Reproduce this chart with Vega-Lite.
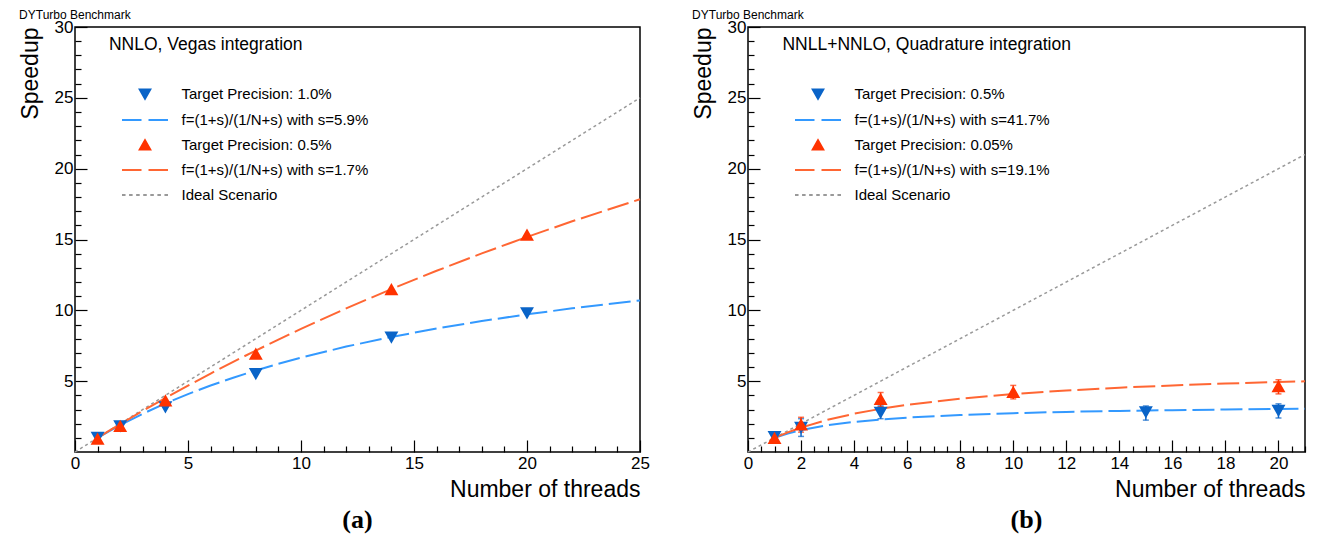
{
  "$schema": "https://vega.github.io/schema/vega-lite/v6.json",
  "background": "white",
  "padding": {"left": 18, "top": 8, "right": 6, "bottom": 0},
  "spacing": 40,
  "resolve": {"scale": {"fill": "independent", "stroke": "independent", "shape": "independent", "x": "independent", "y": "independent"}, "legend": {"fill": "independent", "stroke": "independent", "shape": "independent"}},
  "config": {
    "view": {"stroke": "#000", "strokeWidth": 1.5},
    "axis": {"grid": false, "domain": false, "labelFont": "Liberation Sans", "labelFontSize": 17, "labelColor": "#000", "tickColor": "#000", "tickWidth": 1.2, "tickCount": 200, "titleFont": "Liberation Sans", "titleFontSize": 23, "titleFontWeight": "normal", "titleColor": "#000", "labelOverlap": false, "labelFlush": false},
    "legend": {"labelFont": "Liberation Sans", "labelFontSize": 15, "labelColor": "#000", "labelLimit": 400, "symbolSize": 625, "symbolStrokeWidth": 2, "labelOffset": 23, "padding": 0, "rowPadding": 3, "orient": "none"},
    "title": {"font": "Liberation Sans", "fontSize": 12, "fontWeight": "normal", "anchor": "start", "color": "#000", "offset": -4},
    "text": {"font": "Liberation Sans", "color": "#000"}
  },
  "datasets": {
    "a_fit10": [
      {"N": 1, "S": 1.0}, {"N": 1.5, "S": 1.459}, {"N": 2, "S": 1.894}, {"N": 3, "S": 2.699}, {"N": 4, "S": 3.427}, {"N": 5, "S": 4.089}, {"N": 6, "S": 4.692}, {"N": 7, "S": 5.245}, {"N": 8, "S": 5.755}, {"N": 9, "S": 6.226}, {"N": 10, "S": 6.66}, {"N": 12, "S": 7.442}, {"N": 14, "S": 8.119}, {"N": 16, "S": 8.716}, {"N": 18, "S": 9.244}, {"N": 20, "S": 9.716}, {"N": 22, "S": 10.139}, {"N": 25, "S": 10.697}
    ],
    "a_fit05": [
      {"N": 1, "S": 1.0}, {"N": 1.5, "S": 1.487}, {"N": 2, "S": 1.967}, {"N": 3, "S": 2.903}, {"N": 4, "S": 3.809}, {"N": 5, "S": 4.687}, {"N": 6, "S": 5.537}, {"N": 7, "S": 6.361}, {"N": 8, "S": 7.162}, {"N": 9, "S": 7.939}, {"N": 10, "S": 8.692}, {"N": 12, "S": 10.139}, {"N": 14, "S": 11.501}, {"N": 16, "S": 12.792}, {"N": 18, "S": 14.017}, {"N": 20, "S": 15.179}, {"N": 22, "S": 16.285}, {"N": 25, "S": 17.842}
    ],
    "a_pts": [
      {"N": 1, "S": 1.05, "series": "Target Precision: 1.0%"},
      {"N": 2, "S": 1.85, "series": "Target Precision: 1.0%"},
      {"N": 4, "S": 3.2, "series": "Target Precision: 1.0%"},
      {"N": 8, "S": 5.55, "series": "Target Precision: 1.0%"},
      {"N": 14, "S": 8.12, "series": "Target Precision: 1.0%"},
      {"N": 20, "S": 9.83, "series": "Target Precision: 1.0%"},
      {"N": 1, "S": 0.9, "series": "Target Precision: 0.5%"},
      {"N": 2, "S": 1.8, "series": "Target Precision: 0.5%"},
      {"N": 4, "S": 3.6, "series": "Target Precision: 0.5%"},
      {"N": 8, "S": 6.9, "series": "Target Precision: 0.5%"},
      {"N": 14, "S": 11.45, "series": "Target Precision: 0.5%"},
      {"N": 20, "S": 15.3, "series": "Target Precision: 0.5%"}
    ],
    "b_fit05": [
      {"N": 1, "S": 1.0}, {"N": 1.5, "S": 1.308}, {"N": 2, "S": 1.545}, {"N": 3, "S": 1.889}, {"N": 4, "S": 2.124}, {"N": 5, "S": 2.297}, {"N": 6, "S": 2.428}, {"N": 8, "S": 2.614}, {"N": 10, "S": 2.741}, {"N": 12, "S": 2.832}, {"N": 14, "S": 2.901}, {"N": 16, "S": 2.955}, {"N": 18, "S": 2.998}, {"N": 20, "S": 3.034}, {"N": 21, "S": 3.05}
    ],
    "b_fit005": [
      {"N": 1, "S": 1.0}, {"N": 1.5, "S": 1.389}, {"N": 2, "S": 1.724}, {"N": 3, "S": 2.272}, {"N": 4, "S": 2.701}, {"N": 5, "S": 3.046}, {"N": 6, "S": 3.33}, {"N": 8, "S": 3.769}, {"N": 10, "S": 4.093}, {"N": 12, "S": 4.342}, {"N": 14, "S": 4.539}, {"N": 16, "S": 4.698}, {"N": 18, "S": 4.83}, {"N": 20, "S": 4.942}, {"N": 21, "S": 4.992}
    ],
    "b_pts_blue": [
      {"N": 1, "S": 1.1, "lo": 0.95, "hi": 1.25, "series": "Target Precision: 0.5%"},
      {"N": 2, "S": 1.75, "lo": 1.1, "hi": 2.35, "series": "Target Precision: 0.5%"},
      {"N": 5, "S": 2.8, "lo": 2.35, "hi": 3.25, "series": "Target Precision: 0.5%"},
      {"N": 15, "S": 2.85, "lo": 2.25, "hi": 3.25, "series": "Target Precision: 0.5%"},
      {"N": 20, "S": 2.95, "lo": 2.4, "hi": 3.4, "series": "Target Precision: 0.5%"}
    ],
    "b_pts_orange": [
      {"N": 1, "S": 0.95, "lo": 0.8, "hi": 1.1, "series": "Target Precision: 0.05%"},
      {"N": 2, "S": 1.9, "lo": 1.4, "hi": 2.45, "series": "Target Precision: 0.05%"},
      {"N": 5, "S": 3.7, "lo": 3.2, "hi": 4.2, "series": "Target Precision: 0.05%"},
      {"N": 10, "S": 4.2, "lo": 3.75, "hi": 4.7, "series": "Target Precision: 0.05%"},
      {"N": 20, "S": 4.6, "lo": 4.1, "hi": 5.1, "series": "Target Precision: 0.05%"}
    ],
    "a_labels": [{"label": "NNLO, Vegas integration"}],
    "a_caption": [{"label": "(a)"}],
    "b_labels": [{"label": "NNLL+NNLO, Quadrature integration"}],
    "b_caption": [{"label": "(b)"}]
  },
  "hconcat": [
    {
      "width": 565,
      "height": 425,
      "title": "DYTurbo Benchmark",
      "layer": [
        {"data": {"values": [{"N": 0, "S": 0}, {"N": 25, "S": 25}]}, "mark": {"type": "line", "color": "#999999", "strokeWidth": 1.5, "strokeDash": [3, 3]},
          "encoding": {
            "x": {"field": "N", "type": "quantitative", "title": "Number of threads", "scale": {"domain": [0, 25], "nice": false, "zero": false},
              "axis": {"title": "Number of threads", "titleAnchor": "end", "titlePadding": 1, "labelPadding": 15, "labelOverlap": false, "tickCount": 200,
                "values": [0,1,2,3,4,5,6,7,8,9,10,11,12,13,14,15,16,17,18,19,20,21,22,23,24,25],
                "labelExpr": "datum.value % 5 == 0 ? format(datum.value, 'd') : ''",
                "tickSize": {"condition": {"test": "datum.value % 5 == 0", "value": -12}, "value": -6}}},
            "y": {"field": "S", "type": "quantitative", "title": "Speedup", "scale": {"domain": [0, 30], "nice": false, "zero": false},
              "axis": {"title": "Speedup", "titleAnchor": "end", "titlePadding": 12, "labelPadding": 14, "labelOverlap": false, "tickCount": 200,
                "values": [1,2,3,4,5,6,7,8,9,10,11,12,13,14,15,16,17,18,19,20,21,22,23,24,25,26,27,28,29,30],
                "labelExpr": "datum.value % 5 == 0 ? format(datum.value, 'd') : ''",
                "tickSize": {"condition": {"test": "datum.value % 5 == 0", "value": -12}, "value": -6}}}
          }},
        {"data": {"name": "a_fit10"}, "mark": {"type": "line", "color": "#3399ff", "strokeWidth": 2, "strokeDash": [22, 6]},
          "encoding": {"x": {"field": "N", "type": "quantitative", "title": "Number of threads"}, "y": {"field": "S", "type": "quantitative", "title": "Speedup"}}},
        {"data": {"name": "a_fit05"}, "mark": {"type": "line", "color": "#ff6633", "strokeWidth": 2, "strokeDash": [22, 6]},
          "encoding": {"x": {"field": "N", "type": "quantitative", "title": "Number of threads"}, "y": {"field": "S", "type": "quantitative", "title": "Speedup"}}},
        {"data": {"name": "a_pts"}, "mark": {"type": "point", "filled": true, "size": 625, "strokeWidth": 2, "opacity": 1},
          "encoding": {
            "x": {"field": "N", "type": "quantitative", "title": "Number of threads"}, "y": {"field": "S", "type": "quantitative", "title": "Speedup"},
            "fill": {"field": "series", "type": "nominal",
              "scale": {"domain": ["Target Precision: 1.0%", "f=(1+s)/(1/N+s) with s=5.9%", "Target Precision: 0.5%", "f=(1+s)/(1/N+s) with s=1.7%", "Ideal Scenario"], "range": ["#0a64c8", "transparent", "#ff3300", "transparent", "transparent"]},
              "legend": {"title": null, "orient": "none", "legendX": 56.5, "legendY": 53.5}},
            "stroke": {"field": "series", "type": "nominal",
              "scale": {"domain": ["Target Precision: 1.0%", "f=(1+s)/(1/N+s) with s=5.9%", "Target Precision: 0.5%", "f=(1+s)/(1/N+s) with s=1.7%", "Ideal Scenario"], "range": ["#0a64c8", "#3399ff", "#ff3300", "#ff6633", "#999999"]},
              "legend": {"title": null, "orient": "none", "legendX": 56.5, "legendY": 53.5}},
            "shape": {"field": "series", "type": "nominal",
              "scale": {"domain": ["Target Precision: 1.0%", "f=(1+s)/(1/N+s) with s=5.9%", "Target Precision: 0.5%", "f=(1+s)/(1/N+s) with s=1.7%", "Ideal Scenario"],
                "range": ["M-0.42,-0.36L0.42,-0.36L0,0.38Z", "M-1.84,0H-0.28M0.28,0H1.84", "M-0.42,0.36L0.42,0.36L0,-0.38Z", "M-1.84,0H-0.28M0.28,0H1.84", "M-1.84,0H-1.557M-1.274,0H-0.991M-0.708,0H-0.425M-0.142,0H0.141M0.424,0H0.707M0.99,0H1.273M1.556,0H1.839"]},
              "legend": {"title": null, "orient": "none", "legendX": 56.5, "legendY": 53.5}}
          }},
        {"data": {"name": "a_labels"}, "mark": {"type": "text", "fontSize": 17.5, "align": "left", "baseline": "middle", "color": "#000"},
          "encoding": {"x": {"datum": 1.5, "type": "quantitative", "title": "Number of threads"}, "y": {"datum": 28.7, "type": "quantitative", "title": "Speedup"}, "text": {"field": "label", "type": "nominal"}}},
        {"data": {"name": "a_caption"}, "mark": {"type": "text", "font": "Liberation Serif", "fontWeight": "bold", "fontSize": 26, "align": "center", "baseline": "middle", "color": "#000"},
          "encoding": {"x": {"datum": 12.5, "type": "quantitative", "title": "Number of threads"}, "y": {"datum": -4.8, "type": "quantitative", "title": "Speedup"}, "text": {"field": "label", "type": "nominal"}}}
      ]
    },
    {
      "width": 557,
      "height": 425,
      "title": "DYTurbo Benchmark",
      "layer": [
        {"data": {"values": [{"N": 0, "S": 0}, {"N": 21, "S": 21}]}, "mark": {"type": "line", "color": "#999999", "strokeWidth": 1.5, "strokeDash": [3, 3]},
          "encoding": {
            "x": {"field": "N", "type": "quantitative", "title": "Number of threads", "scale": {"domain": [0, 21], "nice": false, "zero": false},
              "axis": {"title": "Number of threads", "titleAnchor": "end", "titlePadding": 1, "labelPadding": 15, "labelOverlap": false, "tickCount": 200,
                "values": [0,0.5,1,1.5,2,2.5,3,3.5,4,4.5,5,5.5,6,6.5,7,7.5,8,8.5,9,9.5,10,10.5,11,11.5,12,12.5,13,13.5,14,14.5,15,15.5,16,16.5,17,17.5,18,18.5,19,19.5,20,20.5,21],
                "labelExpr": "datum.value % 2 == 0 ? format(datum.value, 'd') : ''",
                "tickSize": {"condition": {"test": "datum.value % 2 == 0", "value": -12}, "value": -6}}},
            "y": {"field": "S", "type": "quantitative", "title": "Speedup", "scale": {"domain": [0, 30], "nice": false, "zero": false},
              "axis": {"title": "Speedup", "titleAnchor": "end", "titlePadding": 12, "labelPadding": 14, "labelOverlap": false, "tickCount": 200,
                "values": [1,2,3,4,5,6,7,8,9,10,11,12,13,14,15,16,17,18,19,20,21,22,23,24,25,26,27,28,29,30],
                "labelExpr": "datum.value % 5 == 0 ? format(datum.value, 'd') : ''",
                "tickSize": {"condition": {"test": "datum.value % 5 == 0", "value": -12}, "value": -6}}}
          }},
        {"data": {"name": "b_fit05"}, "mark": {"type": "line", "color": "#3399ff", "strokeWidth": 2, "strokeDash": [22, 6]},
          "encoding": {"x": {"field": "N", "type": "quantitative", "title": "Number of threads"}, "y": {"field": "S", "type": "quantitative", "title": "Speedup"}}},
        {"data": {"name": "b_fit005"}, "mark": {"type": "line", "color": "#ff6633", "strokeWidth": 2, "strokeDash": [22, 6]},
          "encoding": {"x": {"field": "N", "type": "quantitative", "title": "Number of threads"}, "y": {"field": "S", "type": "quantitative", "title": "Speedup"}}},
        {"data": {"name": "b_pts_blue"}, "mark": {"type": "errorbar", "color": "#0a64c8", "thickness": 1.5, "ticks": {"size": 6}},
          "encoding": {"x": {"field": "N", "type": "quantitative", "title": "Number of threads"}, "y": {"field": "lo", "type": "quantitative", "title": "Speedup"}, "y2": {"field": "hi"}}},
        {"data": {"name": "b_pts_orange"}, "mark": {"type": "errorbar", "color": "#ff3300", "thickness": 1.5, "ticks": {"size": 6}},
          "encoding": {"x": {"field": "N", "type": "quantitative", "title": "Number of threads"}, "y": {"field": "lo", "type": "quantitative", "title": "Speedup"}, "y2": {"field": "hi"}}},
        {"data": {"name": "b_pts_blue"}, "mark": {"type": "point", "filled": true, "size": 625, "strokeWidth": 2, "opacity": 1},
          "encoding": {
            "x": {"field": "N", "type": "quantitative", "title": "Number of threads"}, "y": {"field": "S", "type": "quantitative", "title": "Speedup"},
            "fill": {"field": "series", "type": "nominal",
              "scale": {"domain": ["Target Precision: 0.5%", "f=(1+s)/(1/N+s) with s=41.7%", "Target Precision: 0.05%", "f=(1+s)/(1/N+s) with s=19.1%", "Ideal Scenario"], "range": ["#0a64c8", "transparent", "#ff3300", "transparent", "transparent"]},
              "legend": {"title": null, "orient": "none", "legendX": 56.5, "legendY": 53.5}},
            "stroke": {"field": "series", "type": "nominal",
              "scale": {"domain": ["Target Precision: 0.5%", "f=(1+s)/(1/N+s) with s=41.7%", "Target Precision: 0.05%", "f=(1+s)/(1/N+s) with s=19.1%", "Ideal Scenario"], "range": ["#0a64c8", "#3399ff", "#ff3300", "#ff6633", "#999999"]},
              "legend": {"title": null, "orient": "none", "legendX": 56.5, "legendY": 53.5}},
            "shape": {"field": "series", "type": "nominal",
              "scale": {"domain": ["Target Precision: 0.5%", "f=(1+s)/(1/N+s) with s=41.7%", "Target Precision: 0.05%", "f=(1+s)/(1/N+s) with s=19.1%", "Ideal Scenario"],
                "range": ["M-0.42,-0.36L0.42,-0.36L0,0.38Z", "M-1.84,0H-0.28M0.28,0H1.84", "M-0.42,0.36L0.42,0.36L0,-0.38Z", "M-1.84,0H-0.28M0.28,0H1.84", "M-1.84,0H-1.557M-1.274,0H-0.991M-0.708,0H-0.425M-0.142,0H0.141M0.424,0H0.707M0.99,0H1.273M1.556,0H1.839"]},
              "legend": {"title": null, "orient": "none", "legendX": 56.5, "legendY": 53.5}}
          }},
        {"data": {"name": "b_pts_orange"}, "mark": {"type": "point", "filled": true, "size": 625, "strokeWidth": 2, "opacity": 1},
          "encoding": {
            "x": {"field": "N", "type": "quantitative", "title": "Number of threads"}, "y": {"field": "S", "type": "quantitative", "title": "Speedup"},
            "fill": {"field": "series", "type": "nominal"},
            "stroke": {"field": "series", "type": "nominal"},
            "shape": {"field": "series", "type": "nominal"}
          }},
        {"data": {"name": "b_labels"}, "mark": {"type": "text", "fontSize": 17.5, "align": "left", "baseline": "middle", "color": "#000"},
          "encoding": {"x": {"datum": 1.3, "type": "quantitative", "title": "Number of threads"}, "y": {"datum": 28.7, "type": "quantitative", "title": "Speedup"}, "text": {"field": "label", "type": "nominal"}}},
        {"data": {"name": "b_caption"}, "mark": {"type": "text", "font": "Liberation Serif", "fontWeight": "bold", "fontSize": 26, "align": "center", "baseline": "middle", "color": "#000"},
          "encoding": {"x": {"datum": 10.5, "type": "quantitative", "title": "Number of threads"}, "y": {"datum": -4.8, "type": "quantitative", "title": "Speedup"}, "text": {"field": "label", "type": "nominal"}}}
      ]
    }
  ]
}
